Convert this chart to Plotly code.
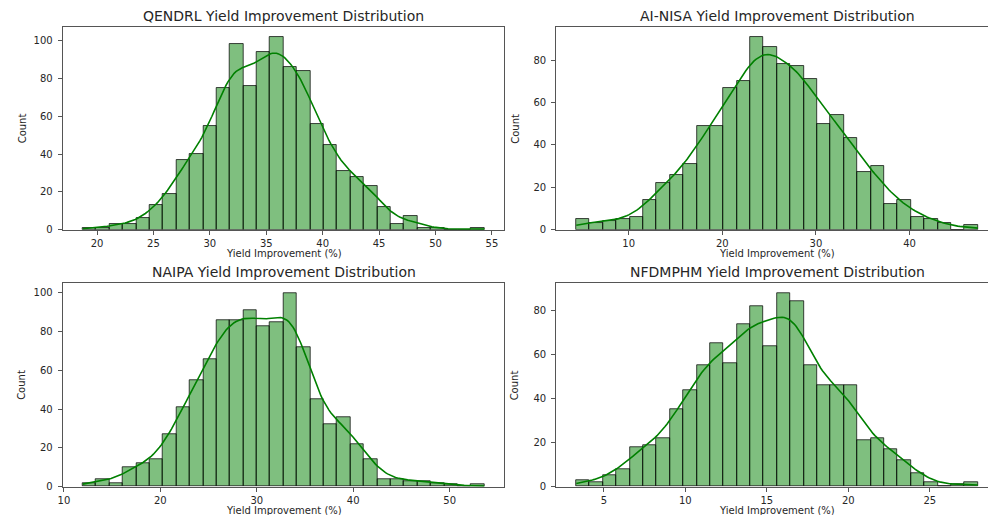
import numpy as np
import plotly.graph_objects as go

# Histogram counts (30 equal-width bins) and the data range they cover
qendrl_counts = [1, 1, 3, 3, 6, 13, 19, 37, 40, 55, 75, 98, 76, 94, 102,
                 86, 84, 56, 45, 31, 28, 23, 12, 3, 7, 1, 1, 0, 0, 1]
qendrl_range = (18.74, 54.33)

ainisa_counts = [5, 3, 4, 5, 6, 14, 22, 26, 31, 49, 49, 67, 70, 91, 86,
                 78, 77, 71, 50, 54, 43, 27, 30, 12, 14, 6, 5, 3, 0, 2]
ainisa_range = (4.40, 47.30)

naipa_counts = [2, 4, 2, 10, 12, 14, 27, 41, 55, 66, 86, 86, 91, 83, 85,
                100, 72, 45, 32, 36, 22, 14, 4, 4, 3, 3, 2, 1, 0, 1]
naipa_range = (11.96, 53.60)

nfdmphm_counts = [3, 2, 5, 8, 18, 19, 22, 35, 44, 55, 65, 56, 74, 82, 64,
                  88, 84, 55, 46, 46, 46, 21, 22, 17, 12, 6, 2, 0, 1, 2]
nfdmphm_range = (3.31, 27.95)

panel_titles = ["QENDRL Yield Improvement Distribution",
                "AI-NISA Yield Improvement Distribution",
                "NAIPA Yield Improvement Distribution",
                "NFDMPHM Yield Improvement Distribution"]
x_ticks = [[20, 25, 30, 35, 40, 45, 50, 55],
           [10, 20, 30, 40],
           [10, 20, 30, 40, 50],
           [5, 10, 15, 20, 25]]
y_ticks = [[0, 20, 40, 60, 80, 100],
           [0, 20, 40, 60, 80],
           [0, 20, 40, 60, 80, 100],
           [0, 20, 40, 60, 80]]
x_label = "Yield Improvement (%)"
y_label = "Count"

panels = [(qendrl_counts, qendrl_range), (ainisa_counts, ainisa_range),
          (naipa_counts, naipa_range), (nfdmphm_counts, nfdmphm_range)]

# ---- layout in pixels ----
W, H = 988, 515
H_PLOT = 508          # vertical extent the paper coordinates actually span
FULL_W = 444          # full axes width
col_left = [58, 554]
row_top = [27, 282.7]
row_bot = [229.3, 485.7]


def px_x(v):
    return v / W


def px_y(v):
    return 1 - v / H_PLOT


BAR_FILL = "rgba(0,128,0,0.5)"
BAR_EDGE = "rgba(0,0,0,0.72)"
KDE_COLOR = "#008000"
SPINE = "#555555"
TEXT = "#262626"
FONT = "DejaVu Sans"


def kde_curve(counts, lo, hi, npts=200):
    """Gaussian KDE (Scott bandwidth) of the binned data, scaled to counts."""
    counts = np.asarray(counts, dtype=float)
    nb = len(counts)
    bw_bin = (hi - lo) / nb
    centers = lo + bw_bin * (np.arange(nb) + 0.5)
    n = counts.sum()
    mean = (counts * centers).sum() / n
    var = (counts * (centers - mean) ** 2).sum() / n - bw_bin ** 2 / 12
    h = np.sqrt(var) * n ** (-1 / 5)
    xs = np.linspace(lo, hi, npts)
    dens = (counts[None, :] * np.exp(-0.5 * ((xs[:, None] - centers[None, :]) / h) ** 2)).sum(axis=1)
    dens /= (n * h * np.sqrt(2 * np.pi))
    return xs, dens * n * bw_bin


fig = go.Figure()
annotations = []

for i, (counts, (lo, hi)) in enumerate(panels):
    r, c = divmod(i, 2)
    nb = len(counts)
    binw = (hi - lo) / nb
    centers = [lo + binw * (k + 0.5) for k in range(nb)]
    xa = "x" if i == 0 else f"x{i + 1}"
    ya = "y" if i == 0 else f"y{i + 1}"

    fig.add_trace(go.Bar(
        x=centers, y=counts, width=binw,
        marker=dict(color=BAR_FILL, line=dict(color=BAR_EDGE, width=1)),
        xaxis=xa, yaxis=ya, showlegend=False, hoverinfo="x+y"))

    kx, ky = kde_curve(counts, lo, hi)
    fig.add_trace(go.Scatter(
        x=kx, y=ky, mode="lines", line=dict(color=KDE_COLOR, width=1.6),
        xaxis=xa, yaxis=ya, showlegend=False, hoverinfo="skip"))

    span = hi - lo
    x0 = lo - 0.05 * span
    x1 = hi + 0.05 * span
    left_px = col_left[c]
    right_px = min(left_px + FULL_W, W)
    x1_vis = x0 + (x1 - x0) * (right_px - left_px) / FULL_W
    ymax = max(counts) * 1.05

    key_x = "xaxis" if i == 0 else f"xaxis{i + 1}"
    key_y = "yaxis" if i == 0 else f"yaxis{i + 1}"
    clipped = right_px < left_px + FULL_W
    common = dict(showgrid=False, zeroline=False, showline=True, linecolor=SPINE,
                  linewidth=1, ticks="outside", ticklen=4, tickwidth=1, tickcolor=SPINE,
                  tickfont=dict(family=FONT, size=10, color=TEXT))
    fig.layout[key_x] = dict(
        domain=[px_x(left_px), px_x(right_px)], range=[x0, x1_vis], anchor=ya,
        tickvals=x_ticks[i], mirror=True, ticklabelstandoff=0, **common)
    fig.layout[key_y] = dict(
        domain=[px_y(row_bot[r]), px_y(row_top[r])], range=[0, ymax], anchor=xa,
        tickvals=y_ticks[i], mirror=False if clipped else True,
        ticklabelstandoff=3, **common)

    cx = left_px + FULL_W / 2
    annotations.append(dict(text=panel_titles[i], x=px_x(cx), y=px_y(row_top[r] - 11),
                            xref="paper", yref="paper", showarrow=False,
                            xanchor="center", yanchor="middle",
                            font=dict(family=FONT, size=14, color=TEXT)))
    annotations.append(dict(text=x_label, x=px_x(cx), y=px_y(row_bot[r] + 23.5),
                            xref="paper", yref="paper", showarrow=False,
                            xanchor="center", yanchor="middle", borderpad=0,
                            font=dict(family=FONT, size=10, color=TEXT)))
    annotations.append(dict(text=y_label, x=px_x(left_px - 41), y=px_y((row_top[r] + row_bot[r]) / 2),
                            xref="paper", yref="paper", showarrow=False, textangle=-90,
                            xanchor="center", yanchor="middle",
                            font=dict(family=FONT, size=10, color=TEXT)))

fig.update_layout(
    width=W, height=H, margin=dict(l=0, r=0, t=0, b=0),
    paper_bgcolor="white", plot_bgcolor="white",
    bargap=0, annotations=annotations, showlegend=False)

fig.write_html("out.html")
